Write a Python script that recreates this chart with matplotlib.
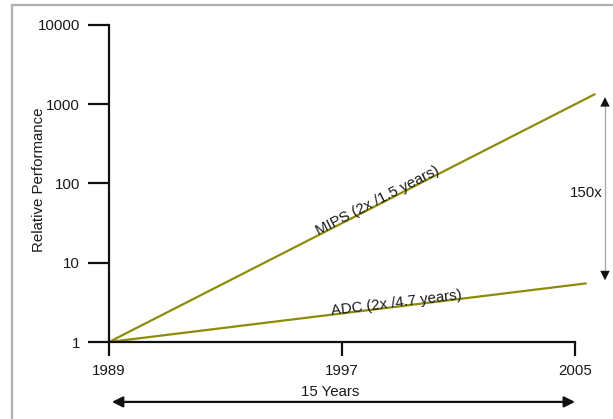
import numpy as np
import matplotlib
matplotlib.use('Agg')
import matplotlib.pyplot as plt
from matplotlib.patches import Rectangle

# Data
years = [1989, 2005.7]
mips = [1, 1350]
years_adc = [1989, 2005.4]
adc = [1, 5.5]
x_ticks = [1989, 1997, 2005]
y_ticks = [1, 10, 100, 1000, 10000]
y_tick_labels = ['1', '10', '100', '1000', '10000']
mips_label = 'MIPS (2x /1.5 years)'
adc_label = 'ADC (2x /4.7 years)'
gap_top, gap_bottom = 1230, 6.0

line_color = '#8c8c0a'
font = 'Liberation Sans'
fs = 10.8

plt.rcParams['font.family'] = [font, 'DejaVu Sans']

fig = plt.figure(figsize=(6.13, 4.19), dpi=100)
ax = fig.add_axes([109 / 613, 77 / 419, 466 / 613, 317 / 419])

# grey frame around the picture (cut off on the right/bottom)
fig.patches.append(Rectangle((12 / 613, -0.2), 1.5, 1.2 - 5 / 419,
                             transform=fig.transFigure, fill=False,
                             edgecolor='#b0b0b0', lw=1.6))

ax.set_yscale('log')
ax.set_xlim(1989, 2005)
ax.set_ylim(1, 10000)

ax.plot(years, mips, color=line_color, lw=1.6, clip_on=False, solid_capstyle='butt')
ax.plot(years_adc, adc, color=line_color, lw=1.6, clip_on=False, solid_capstyle='butt')

for s in ['top', 'right']:
    ax.spines[s].set_visible(False)
for s in ['left', 'bottom']:
    ax.spines[s].set_linewidth(1.6)
    ax.spines[s].set_color('#111111')

ax.set_xticks(x_ticks)
ax.set_xticklabels([str(x) for x in x_ticks], fontsize=fs, color='#1a1a1a')
ax.set_yticks(y_ticks)
ax.set_yticklabels(y_tick_labels, fontsize=fs, color='#1a1a1a')
ax.yaxis.set_minor_locator(matplotlib.ticker.NullLocator())
ax.tick_params(axis='y', length=15, width=1.6, pad=6, color='#111111')
ax.tick_params(axis='x', length=10, width=1.6, pad=6, color='#111111')

fig.text(39 / 613, 1 - 180 / 419, 'Relative Performance', rotation=90,
         ha='center', va='center', fontsize=fs, color='#1a1a1a')


def screen_angle(xs, ys):
    p = ax.transData.transform(np.column_stack([xs, ys]))
    d = p[1] - p[0]
    return np.degrees(np.arctan2(d[1], d[0]))


def on_line(xs, ys, x):
    ly = np.interp(x, xs, np.log10(ys))
    return 10 ** ly


xm = 1998.3
ax.text(xm, on_line(years, mips, xm), mips_label, rotation=screen_angle(years, mips),
        rotation_mode='anchor', ha='center', va='baseline', fontsize=fs, color='#1a1a1a')
xa = 1998.9
ax.text(xa, on_line(years_adc, adc, xa), adc_label, rotation=screen_angle(years_adc, adc),
        rotation_mode='anchor', ha='center', va='baseline', fontsize=fs, color='#1a1a1a')

# 150x gap arrow: light shaft, dark heads
xg = 2006.03
ax.plot([xg, xg], [gap_top * 0.85, gap_bottom * 1.15], color='#aaaaaa', lw=1.0, clip_on=False)
for y0, y1 in [(gap_top * 0.7, gap_top), (gap_bottom * 1.4, gap_bottom)]:
    ax.annotate('', xy=(xg, y1), xytext=(xg, y0), annotation_clip=False,
                arrowprops=dict(arrowstyle='-|>', color='#111111', lw=0.01,
                                mutation_scale=17, shrinkA=0, shrinkB=0))
ax.text(2005.38, 76, '150x', ha='center', va='center', fontsize=fs, color='#1a1a1a')

# 15 years arrow
ax.annotate('', xy=(2005, -0.189), xytext=(1989.1, -0.189),
            xycoords=('data', 'axes fraction'), textcoords=('data', 'axes fraction'),
            annotation_clip=False,
            arrowprops=dict(arrowstyle='<|-|>', color='#111111', lw=1.6,
                            mutation_scale=16, shrinkA=0, shrinkB=0))
ax.text(1996.6, -0.158, '15 Years', transform=ax.get_xaxis_transform(),
        ha='center', va='center', fontsize=fs, color='#1a1a1a')

fig.savefig('out.png', dpi=100)
